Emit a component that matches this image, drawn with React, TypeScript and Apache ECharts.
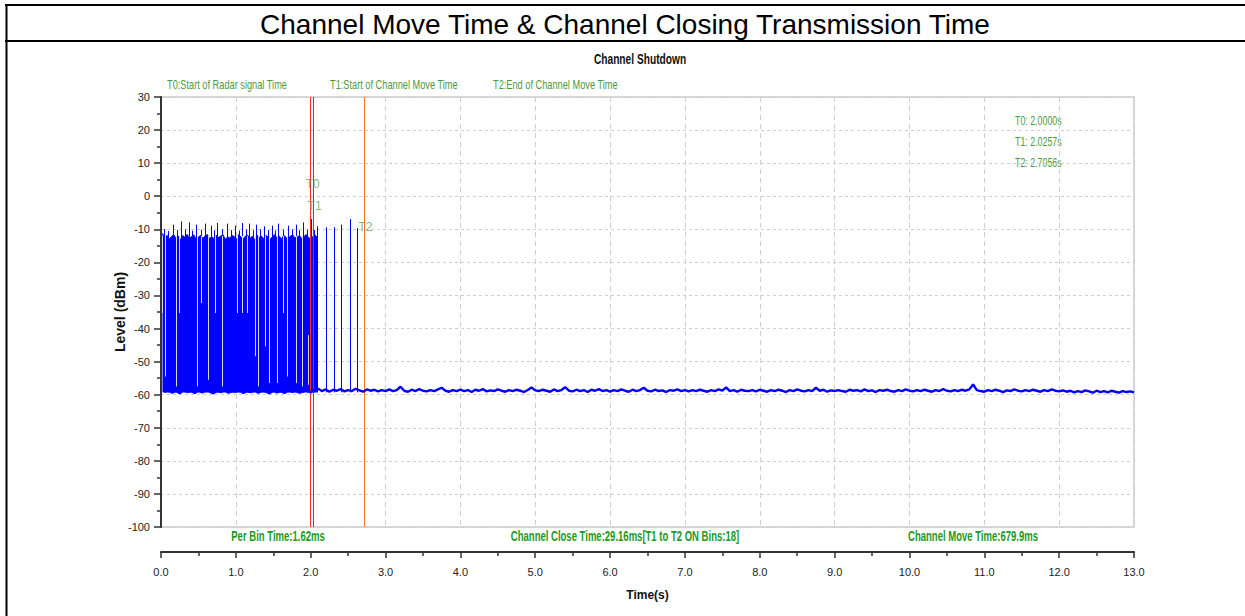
import React, { useEffect, useRef } from "react";
import * as echarts from "echarts";

// ---------- data ----------
const xTicks = [0, 13];
const yRange = [-100, 30];

const markerNames = ["T0", "T1", "T2"];
const markerTimes = [2.0, 2.0257, 2.7056];
const markerLabelLevels = [3.8, -2.9, -9.3];
const markerDescriptions = [
  "Start of Radar signal Time",
  "Start of Channel Move Time",
  "End of Channel Move Time",
];

const summaryTexts = [
  "Per Bin Time:1.62ms",
  "Channel Close Time:29.16ms[T1 to T2 ON Bins:18]",
  "Channel Move Time:679.9ms",
];

// burst (radar-on) envelope: start time, step (s), top level (dBm)
const burstStart = 0.02;
const burstStep = 0.03;
const burstTops = [
  -11.2, -12.5, -11.8, -13.0, -12.2, -11.6, -12.8, -12.0, -13.2, -11.9,
  -12.4, -11.5, -12.9, -12.1, -11.7, -13.1, -12.3, -11.9, -12.7, -12.0,
  -11.6, -12.8, -12.2, -13.0, -11.8, -12.5, -12.0, -11.7, -13.1, -12.3,
  -12.6, -11.9, -12.2, -13.0, -11.6, -12.4, -12.9, -12.0, -11.8, -12.7,
  -12.1, -13.2, -11.7, -12.5, -12.0, -12.8, -11.9, -12.3, -13.0, -12.2,
  -11.6, -12.7, -12.1, -12.9, -11.8, -12.4, -13.1, -12.0, -11.7, -12.6,
  -12.3, -11.9, -12.8, -12.2, -11.6, -12.5, -12.9, -12.1, -11.8, -12.4,
];
const burstFloor = -59.3;

// single-bin spikes
const spikeTimes = [
  0.04, 0.1, 0.156, 0.21, 0.263, 0.32, 0.37, 0.42, 0.468, 0.53,
  0.588, 0.664, 0.71, 0.753, 0.82, 0.886, 0.94, 0.99, 1.04, 1.079,
  1.13, 1.18, 1.23, 1.273, 1.32, 1.37, 1.43, 1.48, 1.52, 1.567,
  1.63, 1.7, 1.75, 1.8, 1.85, 1.902, 1.95, 2.0, 2.05, 2.08,
  2.2, 2.31, 2.41, 2.52, 2.62,
];
const spikeTops = [
  -9.9, -10.5, -8.6, -10.2, -7.6, -10.0, -7.9, -10.4, -8.6, -10.1,
  -8.3, -8.9, -10.3, -8.1, -10.0, -8.3, -10.2, -8.9, -10.4, -8.1,
  -10.1, -8.3, -10.3, -8.6, -10.0, -9.1, -10.2, -8.9, -10.4, -8.3,
  -10.1, -8.9, -10.0, -8.6, -10.3, -7.9, -10.1, -6.9, -10.2, -9.1,
  -9.4, -9.4, -8.6, -6.9, -9.6,
];

// signal-off gaps inside the burst: time, top, bottom
const gapTimes = [
  0.01, 0.06, 0.2, 0.245, 0.48, 0.535, 0.63, 0.72, 0.81, 1.01, 1.08,
  1.155, 1.26, 1.3, 1.39, 1.44, 1.55, 1.635, 1.69, 1.81, 1.89, 1.97,
];
const gapTops = [
  -12, -12, -12, -12, -12, -12, -12, -12, -12, -12, -12,
  -12, -12, -12, -12, -12, -12, -12, -12, -12, -12, -42,
];
const gapBottoms = [
  -35.3, -54.5, -57.5, -35.3, -57.5, -32.3, -55.5, -35.3, -57.5, -35.3, -35.3,
  -35.3, -48.4, -57.5, -45.4, -56.5, -56.5, -35.3, -54.5, -56.5, -57.5, -57,
];

// noise floor: start time, step (s), level (dBm)
const floorStart = 0.05;
const floorStep = 0.05;
const floorLevels = [
  -59.2, -58.6, -59.4, -58.8, -59.6, -58.5, -59.1, -58.9, -59.5, -58.7, -59.3, -58.6, -59.0, -59.6, -58.8, -59.2, -58.5, -59.4, -58.9, -59.1,
  -58.7, -59.5, -58.9, -59.2, -58.6, -59.4, -58.8, -59.0, -59.6, -58.7, -59.3, -58.9, -59.5, -58.6, -59.1, -58.8, -59.4, -59.0, -58.7, -59.3,
  -58.6, -58.2, -58.9, -58.4, -59.1, -58.5, -58.8, -58.3, -59.0, -58.6, -58.9, -58.2, -58.7, -59.1, -58.4, -58.8, -58.5, -59.0, -58.6, -58.9,
  -58.4, -58.9, -58.6, -57.6, -58.8, -59.1, -58.5, -58.9, -58.3, -58.8, -59.0, -58.6, -58.9, -58.4, -57.9, -58.8, -59.1, -58.6, -58.9, -58.5,
  -58.9, -58.6, -59.2, -58.5, -58.8, -58.3, -59.0, -58.7, -58.9, -58.4, -58.8, -59.1, -58.6, -58.9, -58.5, -58.8, -59.2, -58.6, -57.8, -58.7,
  -58.9, -58.5, -58.8, -59.1, -58.4, -58.9, -58.6, -57.7, -58.8, -59.0, -58.5, -58.9, -58.6, -59.2, -58.5, -58.8, -58.3, -58.9, -58.6, -59.1,
  -58.6, -58.9, -58.4, -58.8, -59.1, -58.5, -58.9, -58.6, -57.9, -58.8, -59.0, -58.5, -58.9, -58.7, -59.2, -58.6, -58.8, -58.4, -58.9, -58.6,
  -59.0, -58.6, -58.9, -58.5, -58.8, -59.1, -58.6, -58.9, -58.4, -58.8, -57.8, -58.9, -58.6, -59.1, -58.5, -58.8, -58.9, -58.6, -59.0, -58.5,
  -58.8, -59.1, -58.6, -58.9, -58.5, -58.8, -59.2, -58.6, -58.9, -58.4, -58.8, -59.0, -58.6, -58.9, -57.9, -58.8, -58.5, -59.1, -58.7, -58.9,
  -58.6, -58.9, -59.1, -58.5, -58.8, -58.6, -59.0, -58.4, -58.9, -58.7, -59.2, -58.6, -58.8, -58.5, -58.9, -59.1, -58.6, -58.9, -58.4, -58.8,
  -59.0, -58.6, -58.9, -58.5, -58.8, -59.1, -58.6, -58.9, -58.3, -58.8, -59.0, -58.6, -58.9, -58.5, -58.8, -58.4, -56.9, -58.6, -58.9, -59.1,
  -58.6, -58.9, -58.5, -58.8, -59.2, -58.7, -58.9, -58.4, -58.8, -59.0, -58.6, -58.9, -58.5, -58.8, -59.1, -58.6, -58.9, -58.4, -58.8, -59.0,
  -58.7, -59.1, -58.8, -59.3, -58.9, -59.2, -58.7, -59.0, -59.4, -58.8, -59.2, -58.9, -59.3, -58.8, -59.1, -59.4, -58.9, -59.2, -59.0, -59.3,
];

// ---------- styles ----------
const SANS = '"Liberation Sans", Arial, sans-serif';
const BLUE = "#0000ff";
const markerColors = ["#ff2a2a", "#1a8a1a", "#ff7020"];

function vline(color: string, width: number) {
  return (params: any, api: any) => {
    const t = api.value(0);
    const p1 = api.coord([t, api.value(1)]);
    const p2 = api.coord([t, api.value(2)]);
    const x = Math.round(p1[0]) + 0.5;
    return {
      type: "line",
      shape: { x1: x, y1: p1[1], x2: x, y2: p2[1] },
      style: { stroke: color, lineWidth: width },
    };
  };
}

function label(text: string, x: number, y: number, font: string, fill: string, align: string, sx: number) {
  return {
    type: "text",
    x,
    y,
    scaleX: sx,
    style: {
      text,
      font,
      fill,
      textAlign: align,
      textVerticalAlign: "middle",
      align,
      verticalAlign: "middle",
    },
  };
}

export default function App() {
  const ref = useRef<HTMLDivElement>(null);

  useEffect(() => {
    if (!ref.current) return;
    const chart = echarts.init(ref.current, undefined, { renderer: "svg" });

    const burstData = burstTops.map((v, i) => [burstStart + i * burstStep, v]);
    const floorData = floorLevels.map((v, i) => [floorStart + i * floorStep, v]);
    const spikeData = spikeTimes.map((t, i) => [t, burstFloor, spikeTops[i]]);
    const gapData = gapTimes.map((t, i) => [t, gapTops[i], gapBottoms[i]]);
    const markerLabelData = markerTimes.map((t, i) => ({
      name: markerNames[i],
      value: [t, markerLabelLevels[i]],
    }));

    const graphic: any[] = [
      { type: "line", shape: { x1: 5, y1: 5, x2: 1245, y2: 5 }, style: { stroke: "#000", lineWidth: 2 } },
      { type: "line", shape: { x1: 5, y1: 41, x2: 1245, y2: 41 }, style: { stroke: "#000", lineWidth: 2 } },
      { type: "line", shape: { x1: 6.5, y1: 4, x2: 6.5, y2: 616 }, style: { stroke: "#000", lineWidth: 2 } },
      label("Channel Move Time & Channel Closing Transmission Time", 625, 24, `28px ${SANS}`, "#000", "center", 1),
      label("Channel Shutdown", 640, 59, `bold 15px ${SANS}`, "#111", "center", 0.68),
    ];

    const legendX = [167, 330, 493];
    markerNames.forEach((n, i) => {
      graphic.push(label(`${n}:${markerDescriptions[i]}`, legendX[i], 84, `13px ${SANS}`, "#4c9a40", "left", 0.71));
      graphic.push(label(`${n}: ${markerTimes[i].toFixed(4)}s`, 1015, 120 + i * 21, `13px ${SANS}`, "#4c9a40", "left", 0.68));
    });

    const summaryX = [278, 625, 973];
    summaryTexts.forEach((s, i) => {
      graphic.push(label(s, summaryX[i], 536, `bold 14px ${SANS}`, "#229922", "center", 0.68));
    });

    chart.setOption({
      animation: false,
      backgroundColor: "#fff",
      grid: {
        left: 161,
        top: 97,
        width: 973,
        height: 430,
        show: true,
        borderColor: "#cccccc",
        borderWidth: 1.5,
        backgroundColor: "transparent",
      },
      xAxis: {
        type: "value",
        min: xTicks[0],
        max: xTicks[1],
        interval: 1,
        offset: 25,
        axisLine: { show: true, onZero: false, lineStyle: { color: "#333", width: 2 } },
        axisTick: { show: true, length: 6, lineStyle: { color: "#333", width: 1.5 } },
        minorTick: { show: true, splitNumber: 2, length: 4, lineStyle: { color: "#333", width: 1.5 } },
        axisLabel: {
          margin: 14,
          formatter: (v: number) => v.toFixed(1),
          fontFamily: SANS,
          fontSize: 11,
          color: "#222",
        },
        splitLine: { show: true, lineStyle: { color: "#cfcfcf", type: [5, 4], width: 1 } },
        name: "Time(s)",
        nameLocation: "middle",
        nameGap: 37,
        nameMoveOverlap: false,
        nameTextStyle: { fontFamily: SANS, fontWeight: "bold", fontSize: 12, color: "#111" },
      },
      yAxis: {
        type: "value",
        min: yRange[0],
        max: yRange[1],
        interval: 10,
        offset: 2,
        axisLine: { show: true, lineStyle: { color: "#333", width: 2 } },
        axisTick: { show: true, length: 7, lineStyle: { color: "#333", width: 1.5 } },
        minorTick: { show: true, splitNumber: 2, length: 4, lineStyle: { color: "#333", width: 1.5 } },
        axisLabel: { margin: 9, fontFamily: SANS, fontSize: 11, color: "#222" },
        splitLine: { show: true, lineStyle: { color: "#cfcfcf", type: [3, 3], width: 1 } },
        name: "Level (dBm)",
        nameLocation: "middle",
        nameGap: 32,
        nameMoveOverlap: false,
        nameTextStyle: { fontFamily: SANS, fontWeight: "bold", fontSize: 14, color: "#111" },
      },
      graphic,
      series: [
        {
          type: "line",
          data: burstData,
          symbol: "none",
          z: 2,
          lineStyle: { color: BLUE, width: 1 },
          areaStyle: { color: BLUE, opacity: 1, origin: burstFloor },
        },
        {
          type: "custom",
          data: spikeData,
          z: 3,
          encode: { x: 0, y: [1, 2] },
          renderItem: vline(BLUE, 1),
        },
        {
          type: "custom",
          data: gapData,
          z: 4,
          encode: { x: 0, y: [1, 2] },
          renderItem: vline("#d8d8ff", 1),
        },
        {
          type: "line",
          data: floorData,
          symbol: "none",
          z: 5,
          lineStyle: { color: BLUE, width: 2.4 },
        },
        {
          type: "scatter",
          data: markerLabelData,
          symbolSize: 0,
          z: 10,
          label: {
            show: true,
            position: "inside",
            offset: [2, 0],
            formatter: (p: any) => p.name,
            fontFamily: SANS,
            fontSize: 12,
            color: "#58a858",
          },
          markLine: {
            silent: true,
            symbol: ["none", "none"],
            label: { show: false },
            data: markerTimes.map((t, i) => ({
              xAxis: t,
              lineStyle: { color: markerColors[i], width: 1, type: "solid" },
            })),
          },
        },
      ],
    });

    return () => chart.dispose();
  }, []);

  return (
    <div
      ref={ref}
      style={{ position: "absolute", left: 0, top: 0, width: 1245, height: 616, background: "#fff" }}
    />
  );
}
